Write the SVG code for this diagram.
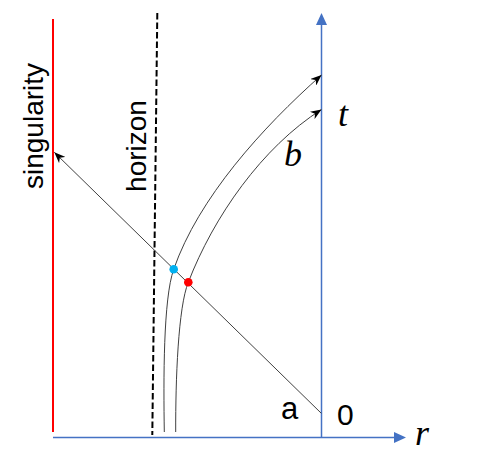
<svg xmlns="http://www.w3.org/2000/svg" width="488" height="460" viewBox="0 0 488 460">
<style>
.lbl{font-family:"Liberation Sans",Arial,sans-serif;font-size:28px;fill:#000}
.math{font-family:"Liberation Serif","Times New Roman",serif;font-style:italic;font-size:36px;fill:#000}
.wl{fill:none;stroke:#404040;stroke-width:1}
.axis{stroke:#4472C4;stroke-width:1.5;fill:none}
</style>
<defs>
<marker id="stealth" viewBox="0 0 10 8" refX="10" refY="4" markerWidth="11" markerHeight="9" markerUnits="userSpaceOnUse" orient="auto">
<path d="M0,0 L10,4 L0,8 L3,4 z" fill="#000"/>
</marker>
</defs>
<rect width="488" height="460" fill="#fff"/>
<g id="axes">
<line class="axis" x1="321.5" y1="438" x2="321.5" y2="24"/>
<polygon points="321.5,13 327,25 316,25" fill="#4472C4"/>
<line class="axis" x1="53" y1="437.5" x2="395" y2="437.5"/>
<polygon points="406,437.5 394,432 394,443" fill="#4472C4"/>
</g>
<g id="singularity">
<line x1="53" y1="19" x2="53" y2="432" stroke="#FF0000" stroke-width="2"/>
<text class="lbl" transform="translate(43,126) rotate(-90)" text-anchor="middle">singularity</text>
</g>
<g id="horizon">
<line x1="157.3" y1="13" x2="152.3" y2="435" stroke="#000" stroke-width="2" stroke-dasharray="6.5,3"/>
<text class="lbl" transform="translate(146,146) rotate(-90)" text-anchor="middle">horizon</text>
</g>
<g id="connectors">
<path id="worldline-outer" class="wl" d="M164.3,432 C163.5,380 163.2,299 173.7,269.3 C198.5,198 262,127.8 321.5,75" marker-end="url(#stealth)"/>
<path id="worldline-inner" class="wl" d="M175.7,432 C175.5,380 178.2,307 188.3,282.3 C213.4,217 262,147.3 321.5,109.5" marker-end="url(#stealth)"/>
<line id="light-ray" class="wl" x1="321.3" y1="413.3" x2="54.3" y2="152.3" marker-end="url(#stealth)"/>
</g>
<g id="event-cyan"><circle cx="173.7" cy="269.3" r="4.3" fill="#00B0F0"/></g>
<g id="event-red"><circle cx="188.3" cy="282.3" r="4.3" fill="#FF0000"/></g>
<g id="labels">
<text class="math" x="338" y="126">t</text>
<text class="math" x="284" y="166">b</text>
<text class="math" x="415" y="445">r</text>
<text class="lbl" x="337" y="425" style="font-size:30px">0</text>
<text class="lbl" x="281" y="419" style="font-size:31px">a</text>
</g>
</svg>
